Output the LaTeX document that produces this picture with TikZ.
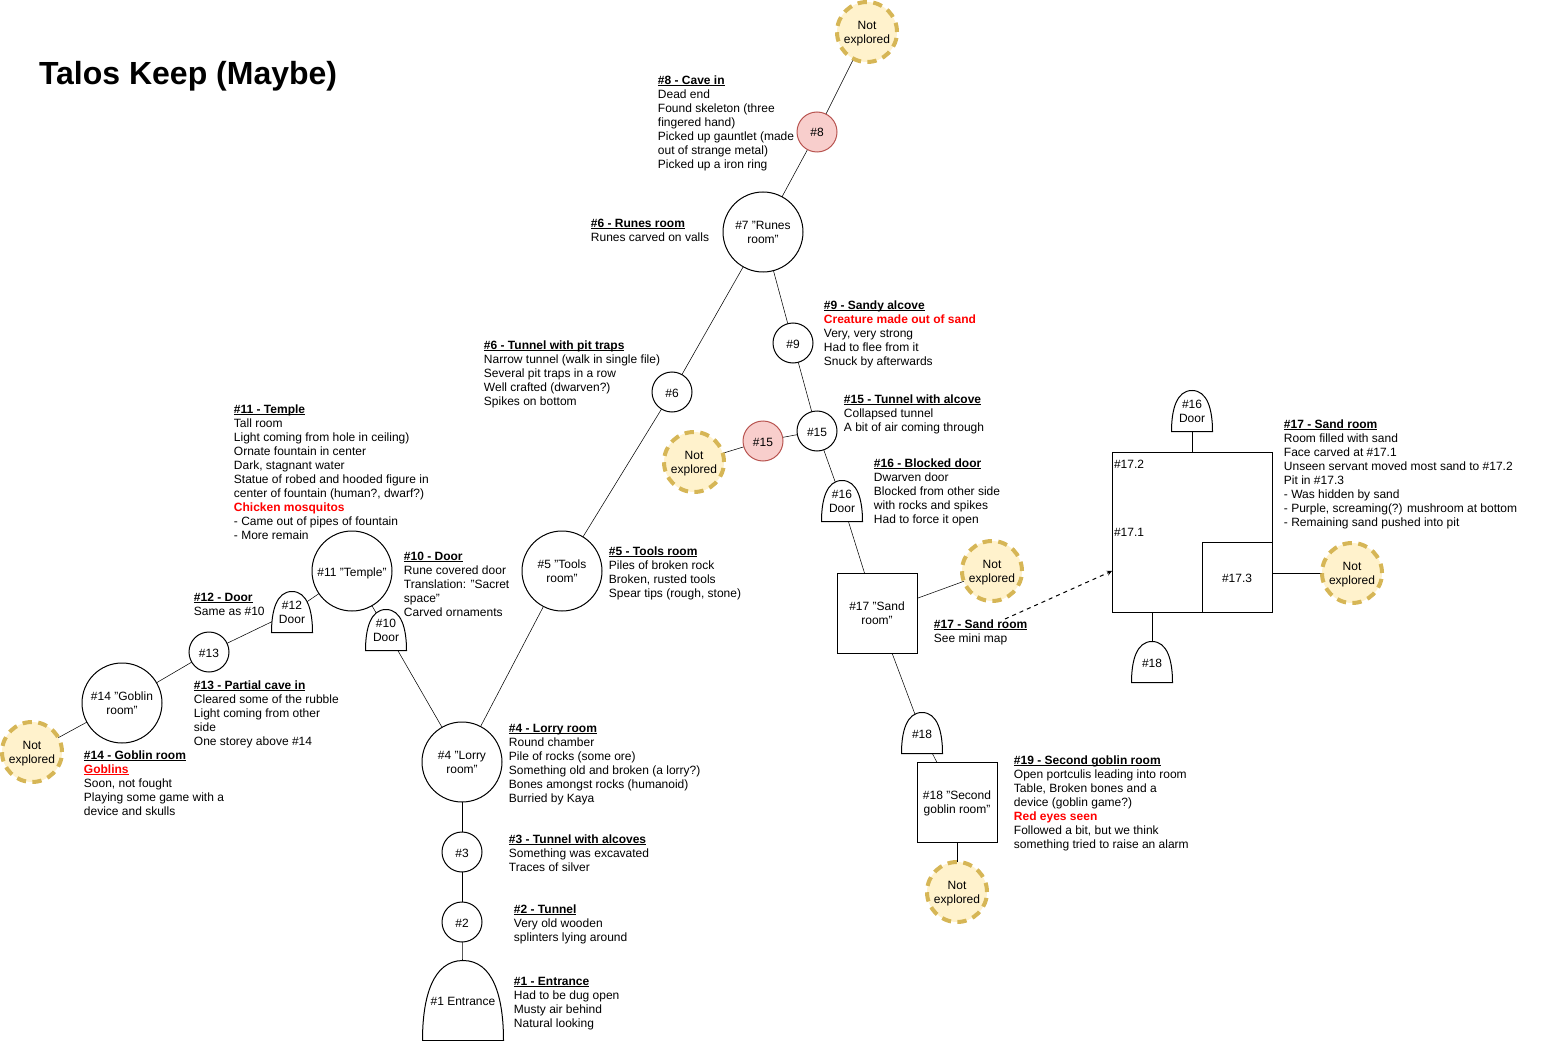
\documentclass[tikz,border=0pt]{standalone}
\usepackage{fontspec}
\setmainfont{Liberation Sans}
\usepackage[dvipsnames]{xcolor}
\usetikzlibrary{backgrounds,arrows}

\definecolor{goldline}{HTML}{D6B656}
\definecolor{goldfill}{HTML}{FFF2CC}
\definecolor{pinkline}{HTML}{B85450}
\definecolor{pinkfill}{HTML}{F8CECC}

\newdimen\doorxa
\newdimen\doorxb
\newdimen\doorxc
\newdimen\doorxd
\newdimen\doorxe
\newdimen\doorya
\newdimen\dooryb
\newdimen\dooryc
\makeatletter
\pgfdeclareshape{doorshape}{
    \inheritsavedanchors[from=rectangle]
    \inheritanchorborder[from=rectangle]
    \inheritanchor[from=rectangle]{center}
    \backgroundpath{
        \southwest \doorxa=\pgf@x \doorya=\pgf@y
        \northeast \doorxb=\pgf@x \dooryb=\pgf@y
        \doorxc=.5\doorxa \advance\doorxc by .5\doorxb
        \dooryc=.45\doorya \advance\dooryc by .55\dooryb
        \doorxd=.87\doorxa \advance\doorxd by .13\doorxb
        \doorxe=.13\doorxa \advance\doorxe by .87\doorxb
        \pgfpathmoveto{\pgfqpoint{\doorxa}{\doorya}}
        \pgfpathcurveto{\pgfqpoint{\doorxa}{\dooryc}}{\pgfqpoint{\doorxd}{\dooryb}}{\pgfqpoint{\doorxc}{\dooryb}}
        \pgfpathcurveto{\pgfqpoint{\doorxe}{\dooryb}}{\pgfqpoint{\doorxb}{\dooryc}}{\pgfqpoint{\doorxb}{\doorya}}
        \pgfpathclose
    }
}
\makeatother

\newsavebox{\headbox}
\newcommand{\notehead}[1]{\rule{0pt}{8pt}\sbox{\headbox}{\textbf{#1}}\usebox{\headbox}\llap{\rule[-1.3pt]{\wd\headbox}{.6pt}}}
\newcommand{\redline}[1]{\textcolor{red}{\textbf{#1}}}
\newcommand{\smallfont}{\fontsize{9}{10.5}\selectfont}

\begin{document}
\begin{tikzpicture}[x=.75pt,y=-.75pt,>=stealth,line width=.75pt,node distance=0pt,
    main node/.style={circle,draw,fill=white,inner sep=0pt,align=center,text depth=0pt,execute at begin node={\rule{0pt}{7.5pt}},font=\smallfont},
    room node/.style={main node,minimum size=60pt},
    small node/.style={main node,minimum size=30pt},
    pink node/.style={small node,draw=pinkline,fill=pinkfill},
    open node/.style={main node,minimum size=45pt,draw=goldline,fill=goldfill,line width=3pt,dash pattern=on 7pt off 4.8pt},
    square node/.style={main node,rectangle,minimum size=60pt},
    door node/.style={main node,doorshape,minimum size=30pt},
    note node/.style={anchor=north west,inner sep=0pt,xshift=-.4pt,align=left,font=\smallfont}]
    \useasboundingbox (0,0) rectangle (1563,1041);

    % main tunnel, from the entrance upwards
    \node[door node,minimum width=60pt,minimum height=59.25pt] (1) at (463,1000.5) {\#1 Entrance};
    \node[small node] (2) [above of = 1, xshift=-.75, yshift=58.875]{\#2};
    \node[small node] (3) [above of = 2, yshift=52.5]{\#3};
    \node[room node] (4) [above of = 3, yshift=67.5]{\#4 "Lorry\\room"};
    \node[room node] (5) [right of = 4, xshift=75, yshift=143.25]{\#5 "Tools\\room"};
    \node[small node] (6) [right of = 5, xshift=82.5, yshift=134.25]{\#6};
    \node[room node] (7) [right of = 6, xshift=68.25, yshift=120]{\#7 "Runes\\room"};
    \node[pink node] (8) [right of = 7, xshift=40.5, yshift=75]{\#8};
    \node[open node] (8a) [right of = 8, xshift=37.5, yshift=75]{Not\\explored};

    % west branch
    \node[door node] (10) [left of = 4, xshift=-57, yshift=99]{\#10\\Door};
    \node[room node] (11) [left of = 10, xshift=-25.5, yshift=44.25]{\#11 "Temple"};
    \node[door node] (12) [left of = 11, xshift=-45, yshift=-30.75]{\#12\\Door};
    \node[small node] (13) [left of = 12, xshift=-62.25, yshift=-30]{\#13};
    \node[room node] (14) [left of = 13, xshift=-65.25, yshift=-38.25]{\#14 "Goblin\\room"};
    \node[open node] (14a) [left of = 14, xshift=-67.5, yshift=-36.75]{Not\\explored};

    % east branch
    \node[small node] (9) [right of = 7, xshift=22.5, yshift=-83.25]{\#9};
    \node[small node] (15) [right of = 9, xshift=18, yshift=-66]{\#15};
    \node[pink node] (15a) [left of = 15, xshift=-40.5, yshift=-7.5]{\#15};
    \node[open node] (15b) [left of = 15a, xshift=-51.75, yshift=-15.75]{Not\\explored};
    \node[door node] (16) [right of = 15, xshift=18.75, yshift=-52.5]{\#16\\Door};
    \node[square node] (17) [right of = 16, xshift=26.25, yshift=-84]{\#17 "Sand\\room"};
    \node[open node] (17a) [right of = 17, xshift=86.25, yshift=31.5]{Not\\explored};
    \node[door node] (18) [right of = 17, xshift=33.75, yshift=-90]{\#18};
    \node[square node] (19) [right of = 18, xshift=26.25, yshift=-51.75]{\#18 "Second\\goblin room"};
    \node[open node] (19a) [below of = 19, yshift=-67.5]{Not\\explored};

    % mini map
    \node[square node,minimum size=120pt] (map) [right of = 17, xshift=236.25, yshift=60.75]{};
    \node[square node,minimum size=52.5pt] (map3) [right of = map, xshift=33.75, yshift=-33.75]{\#17.3};
    \node[door node] (map16) [above of = map, yshift=90.75]{\#16\\Door};
    \node[door node] (map18) [left of = map, xshift=-30, yshift=-97.5]{\#18};
    \node[open node] (mapa) [right of = map, xshift=120, yshift=-30.75]{Not\\explored};
    \node[anchor=west,inner sep=0pt,font=\smallfont] (map2) at (1113.5,464) {\#17.2};
    \node[anchor=west,inner sep=0pt,font=\smallfont] (map1) at (1113.5,532) {\#17.1};

    \begin{scope}[on background layer]
        \path
            (1.center) edge (2.center)
            (2.center) edge (3.center)
            (3.center) edge (4.center)
            (4.center) edge (5.center)
            (5.center) edge (6.center)
            (6.center) edge (7.center)
            (7.center) edge (8.center)
            (8.center) edge (8a.center)

            (4.center) edge (10.center)
            (10.center) edge (11.center)
            (11.center) edge (12.center)
            (12.center) edge (13.center)
            (13.center) edge (14.center)
            (14.center) edge (14a.center)

            (7.center) edge (9.center)
            (9.center) edge (15.center)
            (15.center) edge (15a.center)
            (15a.center) edge (15b.center)
            (15.center) edge (16.center)
            (16.center) edge (17.center)
            (17.center) edge (17a.center)
            (17.center) edge (18.center)
            (18.center) edge (19.center)
            (19.center) edge (19a.center)

            (map.center) edge (map16.center)
            (map18.center) edge (map18.center |- map.south)
            (map3.east |- mapa.center) edge (mapa.center)
        ;
    \end{scope}

    % title and notes
    \node[anchor=west,inner sep=0pt,font=\fontsize{24}{28}\selectfont\bfseries] (title) at (38.5,76) {Talos Keep (Maybe)};

    \node[note node] (note8) at (658,73) {\notehead{\#8 - Cave in}\\Dead end\\Found skeleton (three\\fingered hand)\\Picked up gauntlet (made\\out of strange metal)\\Picked up a iron ring};
    \node[note node] (note7) at (591,216) {\notehead{\#6 - Runes room}\\Runes carved on valls};
    \node[note node] (note9) at (824,298) {\notehead{\#9 - Sandy alcove}\\\redline{Creature made out of sand}\\Very, very strong\\Had to flee from it\\Snuck by afterwards};
    \node[note node] (note6) at (484,338) {\notehead{\#6 - Tunnel with pit traps}\\Narrow tunnel (walk in single file)\\Several pit traps in a row\\Well crafted (dwarven?)\\Spikes on bottom};
    \node[note node] (note15) at (844,392) {\notehead{\#15 - Tunnel with alcove}\\Collapsed tunnel\\A bit of air coming through};
    \node[note node] (note16) at (874,456) {\notehead{\#16 - Blocked door}\\Dwarven door\\Blocked from other side\\with rocks and spikes\\Had to force it open};
    \node[note node] (notemap) at (1284,417) {\notehead{\#17 - Sand room}\\Room filled with sand\\Face carved at \#17.1\\Unseen servant moved most sand to \#17.2\\Pit in \#17.3\\- Was hidden by sand\\- Purple, screaming(?) mushroom at bottom\\- Remaining sand pushed into pit};
    \node[note node] (note11) at (234,402) {\notehead{\#11 - Temple}\\Tall room\\Light coming from hole in ceiling)\\Ornate fountain in center\\Dark, stagnant water\\Statue of robed and hooded figure in\\center of fountain (human?, dwarf?)\\\redline{Chicken mosquitos}\\- Came out of pipes of fountain\\- More remain};
    \node[note node] (note10) at (404,549) {\notehead{\#10 - Door}\\Rune covered door\\Translation: "Sacret\\space"\\Carved ornaments};
    \node[note node] (note5) at (609,544) {\notehead{\#5 - Tools room}\\Piles of broken rock\\Broken, rusted tools\\Spear tips (rough, stone)};
    \node[note node] (note12) at (194,590) {\notehead{\#12 - Door}\\Same as \#10};
    \node[note node] (note13) at (194,678) {\notehead{\#13 - Partial cave in}\\Cleared some of the rubble\\Light coming from other\\side\\One storey above \#14};
    \node[note node] (note14) at (84,748) {\notehead{\#14 - Goblin room}\\\textcolor{red}{\notehead{Goblins}}\\Soon, not fought\\Playing some game with a\\device and skulls};
    \node[note node] (note4) at (509,721) {\notehead{\#4 - Lorry room}\\Round chamber\\Pile of rocks (some ore)\\Something old and broken (a lorry?)\\Bones amongst rocks (humanoid)\\Burried by Kaya};
    \node[note node] (note3) at (509,832) {\notehead{\#3 - Tunnel with alcoves}\\Something was excavated\\Traces of silver};
    \node[note node] (note2) at (514,902) {\notehead{\#2 - Tunnel}\\Very old wooden\\splinters lying around};
    \node[note node] (note1) at (514,974) {\notehead{\#1 - Entrance}\\Had to be dug open\\Musty air behind\\Natural looking};
    \node[note node] (note19) at (1014,753) {\notehead{\#19 - Second goblin room}\\Open portculis leading into room\\Table, Broken bones and a\\device (goblin game?)\\\redline{Red eyes seen}\\Followed a bit, but we think\\something tried to raise an alarm};
    \node[note node] (note17) at (934,617) {\notehead{\#17 - Sand room}\\See mini map};

    \coordinate (arrowfrom) at (1005,619);
    \coordinate (arrowto) at (1112,571);
    \path (arrowfrom) edge [->,dashed] (arrowto);
\end{tikzpicture}
\end{document}
